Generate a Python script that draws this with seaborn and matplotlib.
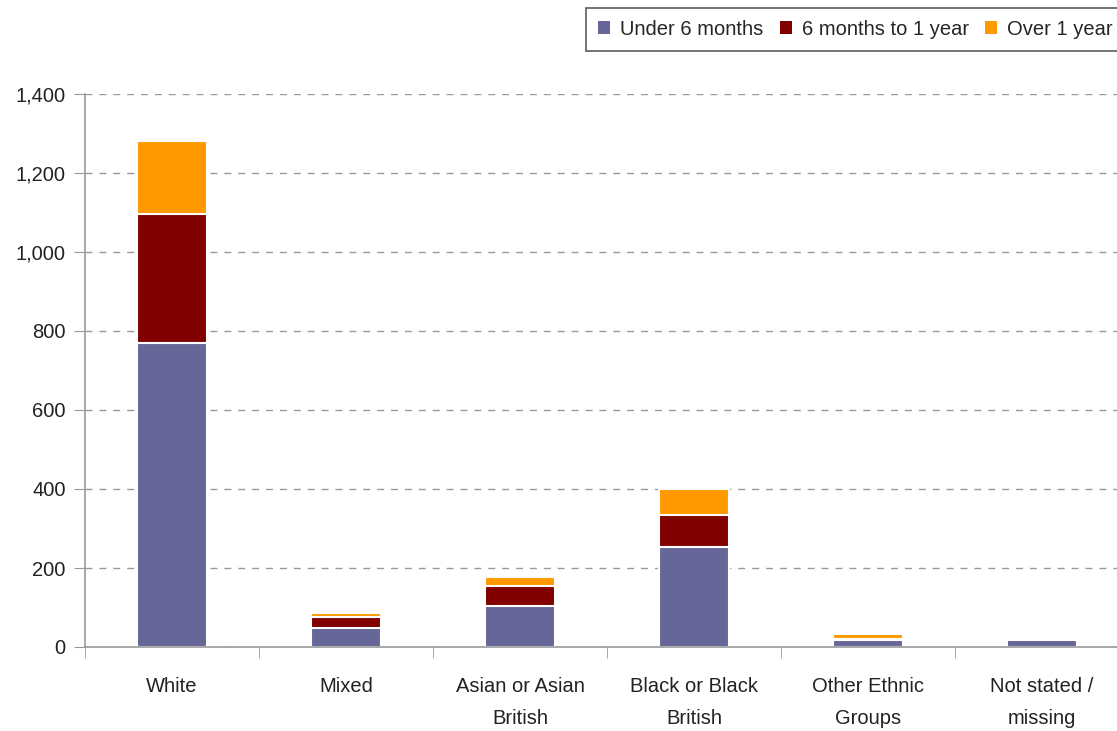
import matplotlib
matplotlib.use("Agg")
import matplotlib.pyplot as plt
import seaborn as sns
import pandas as pd
import numpy as np

# data
groups = ["White", "Mixed", "Asian or Asian\nBritish", "Black or Black\nBritish",
          "Other Ethnic\nGroups", "Not stated /\nmissing"]
under_6m = [770, 49, 105, 252, 18, 18]
six_to_12m = [325, 26, 50, 82, 2, 0]
over_1y = [185, 10, 21, 66, 13, 0]

series = ["Under 6 months", "6 months to 1 year", "Over 1 year"]
colors = ["#666699", "#800000", "#FF9900"]

df = pd.DataFrame({"group": groups, series[0]: under_6m,
                   series[1]: six_to_12m, series[2]: over_1y})
# cumulative heights so the bars can be layered from the top down
df["c0"] = df[series[0]]
df["c1"] = df["c0"] + df[series[1]]
df["c2"] = df["c1"] + df[series[2]]

sns.set_style("white")
plt.rcParams["font.family"] = ["Liberation Sans Narrow", "Liberation Sans", "DejaVu Sans"]

fig = plt.figure(figsize=(11.17, 7.31), dpi=100)
ax = fig.add_axes([85 / 1117, 84 / 731, 1044 / 1117, 553 / 731])

for col, name, c in zip(["c2", "c1", "c0"], series[::-1], colors[::-1]):
    sns.barplot(data=df, x="group", y=col, color=c, width=0.4, ax=ax,
                edgecolor="white", linewidth=1.5, label=name, saturation=1)

handles, labels = ax.get_legend_handles_labels()
if ax.get_legend() is not None:
    ax.get_legend().remove()

ax.set_xlim(-0.5, 5.5)
ax.set_ylim(0, 1400)
ax.set_yticks(range(0, 1401, 200))
ax.set_yticklabels([f"{v:,}" for v in range(0, 1401, 200)], fontsize=14.5, color="#222222")
ax.set_xlabel("")
ax.set_ylabel("")

ax.yaxis.grid(True, linestyle=(0, (5, 5)), color="#999999", linewidth=1)
ax.set_axisbelow(True)

for s in ["top", "right"]:
    ax.spines[s].set_visible(False)
for s in ["left", "bottom"]:
    ax.spines[s].set_color("#999999")
    ax.spines[s].set_linewidth(1.2)

ax.tick_params(axis="y", which="major", direction="out", length=8, color="#999999", left=True, pad=6)
ax.tick_params(axis="x", which="major", length=0, pad=21.5, labelsize=14.5, labelcolor="#222222")
ax.set_xticks(np.arange(-0.5, 6, 1), minor=True)
ax.tick_params(axis="x", which="minor", direction="out", length=8, color="#999999", bottom=True)
for lbl in ax.get_xticklabels():
    lbl.set_verticalalignment("top")
    lbl.set_linespacing(1.9)

order = [labels.index(n) for n in series]
leg = fig.legend([handles[i] for i in order], series, loc="upper right",
                 bbox_to_anchor=(1.016, 1.003), ncol=3, fontsize=14.5, frameon=True,
                 fancybox=False, edgecolor="#333333", handlelength=0.6, handleheight=0.6,
                 handletextpad=0.5, columnspacing=0.8, borderpad=0.6)
leg.get_frame().set_linewidth(1.2)
for h in leg.legend_handles:
    h.set_edgecolor("none")

fig.savefig("out.png", dpi=100)
